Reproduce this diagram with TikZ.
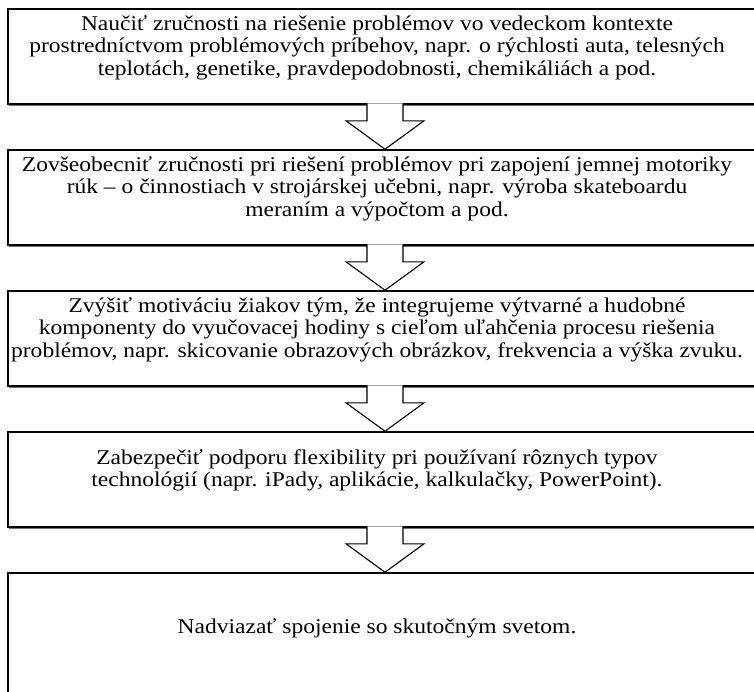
\documentclass[tikz,border=0pt]{standalone}
\usepackage{fontspec}
\setmainfont{Liberation Serif}[FakeStretch=1.12]
\usetikzlibrary{calc, shadows}

% hollow block arrow from the bottom of one box to the top of the next
\newcommand{\hollowarrow}[2]{%
    \filldraw[hollow] ($(#1.south)+(-18,-1.5)$) -- ($(#1.south)+(-18,16)$) -- ($(#1.south)+(-39,16)$)
        -- (#2.north) -- ($(#1.south)+(39,16)$) -- ($(#1.south)+(18,16)$) -- ($(#1.south)+(18,-1.5)$);
}

\begin{document}
\begin{tikzpicture}[x=1pt, y=-1pt,
    goal/.style={draw, line width=1.6pt, fill=white, minimum width=754pt, minimum height=95pt,
                 inner sep=0pt, drop shadow={shadow xshift=0.5pt, shadow yshift=-1.8pt, fill=black!55, opacity=1}},
    goaltext/.style={align=center, inner sep=0pt, font=\fontsize{21}{22.5}\selectfont},
    hollow/.style={draw, line width=1.1pt, fill=white, line join=miter}
]
    \useasboundingbox (0,0) rectangle (754,691);
    \clip (0,0) rectangle (754,691);

    % --- goal boxes ---
    \def\y{56.5}
    \node[goal] (skills) at (385,\y) {};
    \node[goaltext] (skills-txt) at ($(skills)+(-8,-9)$) {Naučiť zručnosti na riešenie problémov vo vedeckom kontexte\\
        prostredníctvom problémových príbehov, napr. o rýchlosti auta, telesných\\
        teplotách, genetike, pravdepodobnosti, chemikáliách a pod.};
    \pgfmathsetmacro{\y}{\y+141}
    \node[goal] (motor) at (385,\y) {};
    \node[goaltext] (motor-txt) at ($(motor)+(-8,-9)$) {Zovšeobecniť zručnosti pri riešení problémov pri zapojení jemnej motoriky\\
        rúk – o činnostiach v strojárskej učebni, napr. výroba skateboardu\\
        meraním a výpočtom a pod.};
    \pgfmathsetmacro{\y}{\y+141}
    \node[goal] (arts) at (385,\y) {};
    \node[goaltext] (arts-txt) at ($(arts)+(-8,-9)$) {Zvýšiť motiváciu žiakov tým, že integrujeme výtvarné a hudobné\\
        komponenty do vyučovacej hodiny s cieľom uľahčenia procesu riešenia\\
        problémov, napr. skicovanie obrazových obrázkov, frekvencia a výška zvuku.};
    \pgfmathsetmacro{\y}{\y+141}
    \node[goal] (tech) at (385,\y) {};
    \node[goaltext] (tech-txt) at ($(tech)+(-8,-9)$) {Zabezpečiť podporu flexibility pri používaní rôznych typov\\
        technológií (napr. iPady, aplikácie, kalkulačky, PowerPoint).};
    \pgfmathsetmacro{\y}{\y+158.5}
    \node[goal, minimum height=130pt] (world) at (385,\y) {};
    \node[goaltext] (world-txt) at ($(world)+(-8,-10)$) {Nadviazať spojenie so skutočným svetom.};

    % --- arrows ---
    \hollowarrow{skills}{motor}
    \hollowarrow{motor}{arts}
    \hollowarrow{arts}{tech}
    \hollowarrow{tech}{world}
\end{tikzpicture}
\end{document}
